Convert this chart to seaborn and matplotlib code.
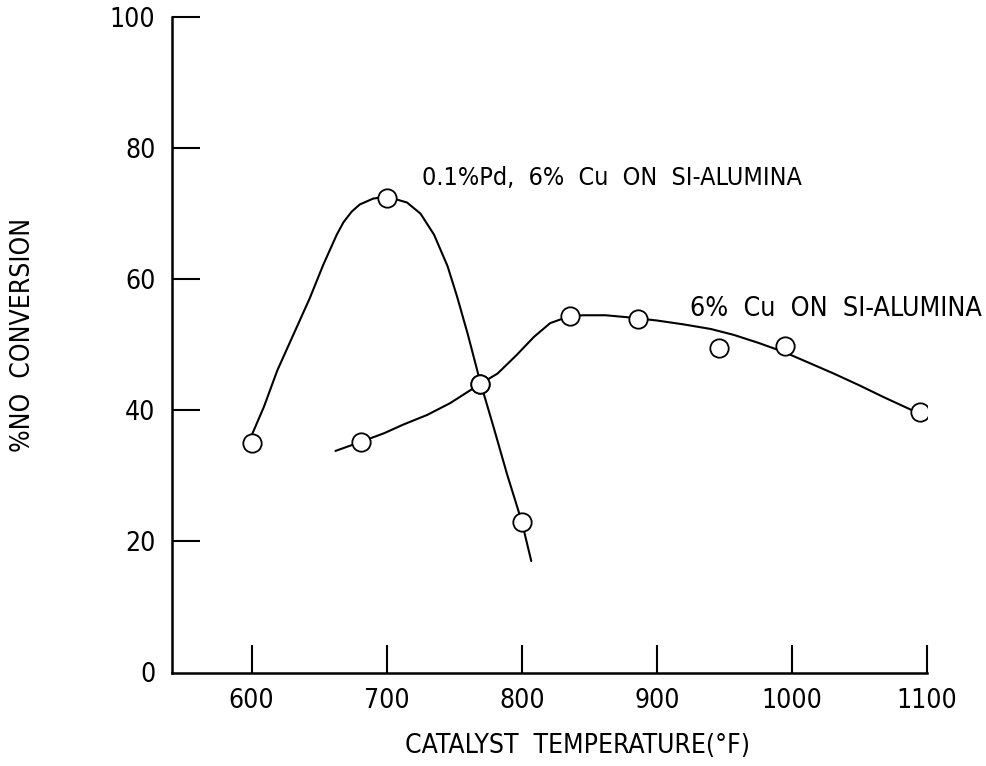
import matplotlib
matplotlib.use("Agg")
import matplotlib.pyplot as plt
from matplotlib import font_manager as fm
import seaborn as sns
import pandas as pd

# Measured conversions (open circles)
pd_temp = [600, 700, 769, 800]
pd_conv = [35.0, 72.4, 44.0, 23.0]

cu_temp = [681, 769, 836, 886, 946, 995, 1095]
cu_conv = [35.2, 44.0, 54.4, 53.9, 49.5, 49.8, 39.7]

# Hand-faired trend curves through the measurements
pd_curve_t = [600, 609, 619, 631, 643, 653, 663, 668, 674, 680, 690, 697, 705, 715,
              725, 735, 745, 752, 760, 769, 779, 789, 800, 807]
pd_curve_c = [36.2, 40.5, 46.1, 51.6, 57.1, 62.2, 66.8, 68.7, 70.3, 71.4, 72.3, 72.5,
              72.3, 71.7, 70.0, 66.8, 62.0, 57.4, 51.6, 44.5, 37.5, 30.3, 23.0, 17.0]

cu_curve_t = [662, 681, 698, 712, 730, 747, 769, 782, 796, 809, 821, 836,
              846, 862, 878, 900, 920, 940, 957, 975, 994, 1012, 1031, 1050, 1068, 1088, 1095]
cu_curve_c = [33.8, 35.2, 36.5, 37.8, 39.3, 41.1, 44.0, 45.6, 48.4, 51.2, 53.3, 54.4,
              54.5, 54.5, 54.2, 53.7, 53.1, 52.4, 51.5, 50.3, 48.9, 47.3, 45.6, 43.8, 42.0, 40.1, 39.4]

x_ticks = [600, 700, 800, 900, 1000, 1100]
y_ticks = [0, 20, 40, 60, 80, 100]

label_pd = "0.1%Pd,  6%  Cu  ON  SI-ALUMINA"
label_cu = "6%  Cu  ON  SI-ALUMINA"

sns.set_theme(style="white")

# Prefer a narrow sans face for the lettering
entries = fm.fontManager.ttflist
names = {f.name for f in entries}
stretch = "normal"
if "Liberation Sans Narrow" in names:
    family = ["Liberation Sans Narrow", "DejaVu Sans"]
elif any(f.name == "DejaVu Sans" and f.stretch == "condensed" for f in entries):
    family = ["DejaVu Sans"]
    stretch = "condensed"
else:
    family = ["DejaVu Sans"]
plt.rcParams["font.family"] = family
plt.rcParams["font.stretch"] = stretch

fig = plt.figure(figsize=(9.87, 7.66), dpi=100)
ax = fig.add_axes([172 / 987, (766 - 672.5) / 766, (927 - 172) / 987, (672.5 - 17) / 766])

curves = pd.concat([
    pd.DataFrame({"t": pd_curve_t, "c": pd_curve_c, "s": "Pd"}),
    pd.DataFrame({"t": cu_curve_t, "c": cu_curve_c, "s": "Cu"}),
])
points = pd.concat([
    pd.DataFrame({"t": pd_temp, "c": pd_conv}),
    pd.DataFrame({"t": cu_temp, "c": cu_conv}),
])

sns.lineplot(data=curves, x="t", y="c", units="s", estimator=None, sort=False,
             color="black", linewidth=1.5, ax=ax, zorder=2)
sns.scatterplot(data=points, x="t", y="c", marker="o", s=175, facecolor="white",
                edgecolor="black", linewidth=1.3, ax=ax, zorder=3)

ax.set_xlim(541, 1100)
ax.set_ylim(0, 100)
ax.set_xticks(x_ticks)
ax.set_yticks(y_ticks)
ax.set_xticklabels([str(v) for v in x_ticks])
ax.set_yticklabels([str(v) for v in y_ticks])
ax.set_xlabel("")
ax.set_ylabel("")

for side in ("top", "right"):
    ax.spines[side].set_visible(False)
for side in ("left", "bottom"):
    ax.spines[side].set_linewidth(1.8)
    ax.spines[side].set_color("black")

ax.tick_params(axis="both", direction="in", length=20, width=1.5, colors="black",
               labelsize=19, bottom=True, left=True)
ax.tick_params(axis="x", pad=11)
ax.tick_params(axis="y", pad=12)
# the zero tick would only double the bottom spine
ax.yaxis.get_major_ticks()[0].tick1line.set_visible(False)

ax.text(726, 75.5, label_pd, fontsize=18, ha="left", va="center", color="black")
ax.text(924.6, 55.4, label_cu, fontsize=19.3, ha="left", va="center", color="black")

fig.text(578 / 987, 1 - 746 / 766, "CATALYST  TEMPERATURE(°F)", fontsize=19,
         ha="center", va="center", color="black")
fig.text(23 / 987, 1 - 335 / 766, "%NO  CONVERSION", fontsize=19, rotation=90,
         ha="center", va="center", color="black")

fig.savefig("out.png", dpi=100, facecolor="white")
